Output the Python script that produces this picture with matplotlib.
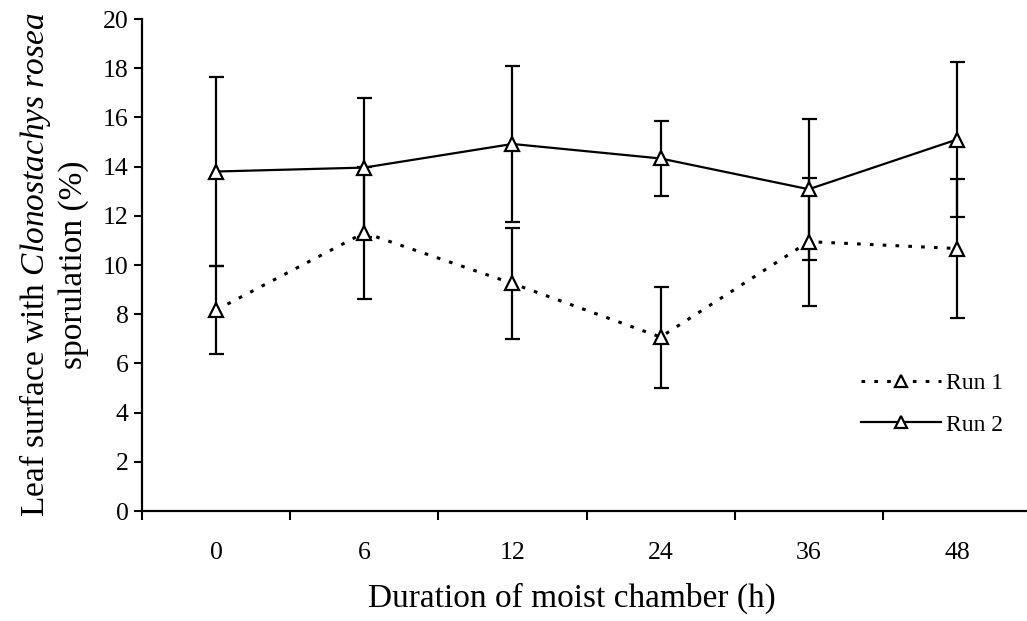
import matplotlib
matplotlib.use("Agg")
import matplotlib.pyplot as plt
import numpy as np

# Data
categories = ["0", "6", "12", "24", "36", "48"]
run1 = [8.17, 11.31, 9.25, 7.07, 10.95, 10.67]
run1_err = [1.79, 2.69, 2.27, 2.05, 2.60, 2.81]
run2 = [13.80, 13.96, 14.92, 14.33, 13.08, 15.10]
run2_err = [3.85, 2.82, 3.17, 1.53, 2.86, 3.16]
yticks = list(range(0, 21, 2))

plt.rcParams['font.family'] = ['Liberation Serif', 'DejaVu Serif']
plt.rcParams['mathtext.fontset'] = 'custom'
plt.rcParams['mathtext.rm'] = 'Liberation Serif'
plt.rcParams['mathtext.it'] = 'Liberation Serif:italic'

W, H = 1027, 621
fig = plt.figure(figsize=(W / 100, H / 100), dpi=100)
ax = fig.add_axes([142 / W, 1 - 511 / H, 889 / W, 492 / H])

x = np.arange(len(categories))

ecfg = dict(fmt='none', ecolor='black', elinewidth=1.6, capsize=5.4, capthick=1.6, zorder=2)
ax.errorbar(x, run1, yerr=run1_err, **ecfg)
ax.errorbar(x, run2, yerr=run2_err, **ecfg)

l1, = ax.plot(x, run1, linestyle=(0, (1.2, 3.0)), color='black', lw=2.2,
              marker='^', markersize=10, markerfacecolor='white',
              markeredgecolor='black', markeredgewidth=1.6, zorder=3, label='Run 1')
l2, = ax.plot(x, run2, linestyle='-', color='black', lw=1.6,
              marker='^', markersize=10, markerfacecolor='white',
              markeredgecolor='black', markeredgewidth=1.6, zorder=3, label='Run 2')

ax.set_xlim(-0.5, len(categories) - 0.5)
ax.set_ylim(0, 20)

for s in ['top', 'right']:
    ax.spines[s].set_visible(False)
for s in ['left', 'bottom']:
    ax.spines[s].set_linewidth(1.6)

ax.set_yticks(yticks)
ax.set_yticklabels([str(v) for v in yticks], fontsize=18.5)
ax.tick_params(axis='y', direction='out', length=5.5, width=1.5, pad=4)

ax.set_xticks(np.arange(-0.5, len(categories) - 0.4, 1.0))
ax.set_xticklabels([])
ax.tick_params(axis='x', which='major', direction='out', length=6.5, width=1.5)
ax.set_xticks(x, minor=True)
ax.set_xticklabels(categories, minor=True, fontsize=18.5)
ax.tick_params(axis='x', which='minor', length=0, pad=22)

fig.text(572 / W, 1 - 598 / H, "Duration of moist chamber (h)", fontsize=24,
         ha='center', va='center')
fig.text(53 / W, 1 - 265 / H,
         "Leaf surface with $\\it{Clonostachys\\ rosea}$\nsporulation (%)",
         fontsize=24, rotation=90, ha='center', va='center', ma='center')

leg = fig.legend(handles=[l1, l2], loc='center left',
                 bbox_to_anchor=(861 / W, 1 - 404 / H), frameon=False,
                 fontsize=17, handlelength=3.4, handletextpad=0.2,
                 labelspacing=0.85, borderpad=0, borderaxespad=0, numpoints=1,
                 markerscale=0.85)

fig.savefig("out.png", dpi=100)
